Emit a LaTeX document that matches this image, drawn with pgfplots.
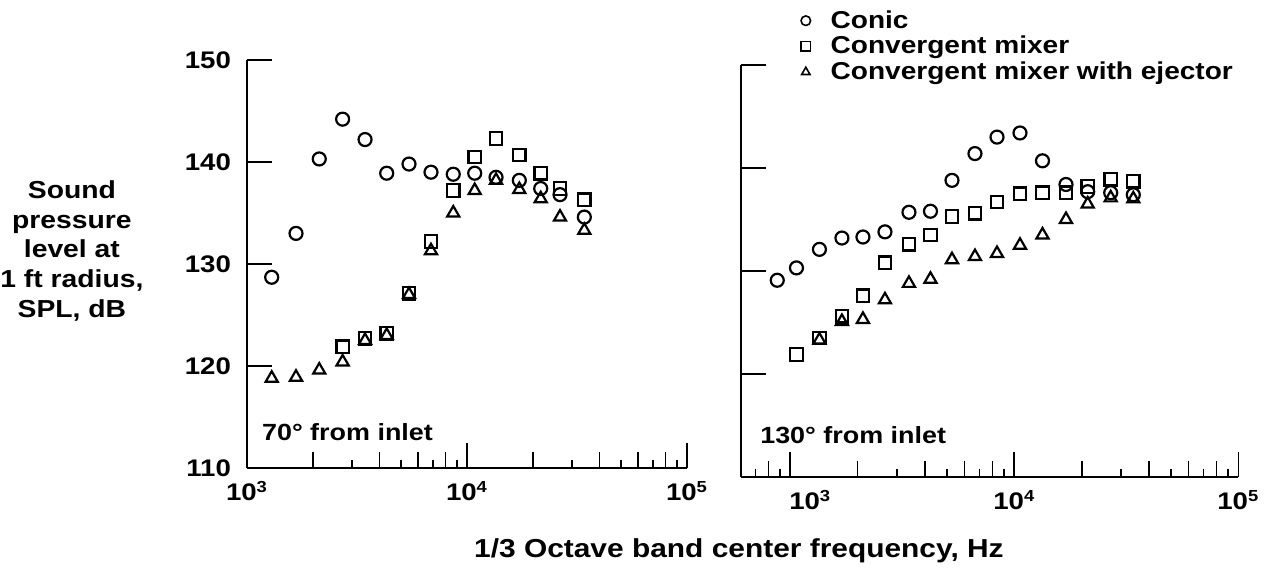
\documentclass[border=0pt]{standalone}
\usepackage{pgfplots}
\pgfplotsset{compat=1.18}
\usepackage{fontspec}
\setmainfont{Liberation Sans}[FakeStretch=1.15]

\begin{document}
\begin{tikzpicture}
\useasboundingbox (0,0) rectangle (636pt,286.5pt);

% 70 deg from inlet
\begin{axis}[
  scale only axis, xmode=log, ymin=110, ymax=150, xmin=1000, xmax=100000,
  at={(123.5pt,52.5pt)}, anchor=south west,
  width=220pt, height=204pt,
  axis lines=left, axis line style={-, line width=0.8pt},
  tick align=inside, tick style={black, line width=0.8pt},
  major tick length=12.5pt, minor tick length=8pt,
  ytick={110,120,130,140,150},
  yticklabels={110,120,130,140,150},
  yticklabel style={xshift=-4.5pt},
  xtick={1000,10000,100000},
  xticklabels={10\textsuperscript{3},10\textsuperscript{4},10\textsuperscript{5}},
  xticklabel style={yshift=-3pt},
  minor xtick={2000,4000,6000,8000,20000,40000,60000,80000},
  extra x ticks={3000,5000,7000,9000,30000,50000,70000,90000},
  extra x tick labels={},
  extra x tick style={major tick length=4pt},
  tick label style={font=\bfseries\fontsize{12}{14}\selectfont},
  clip=false,
  every axis y label/.style={at={(rel axis cs:-0.398,0.532)}, anchor=center, align=center,
    font=\bfseries\fontsize{12.3}{14.8}\selectfont},
  ylabel={Sound\\pressure\\level at\\1 ft radius,\\SPL, dB},
  every axis x label/.style={at={(rel axis cs:1.118,-0.203)}, anchor=center,
    font=\bfseries\fontsize{13}{15}\selectfont},
  xlabel={1/3 Octave band center frequency, Hz},
]
\addplot[black, only marks, line width=1.1pt, mark=o, mark size=3.25pt] coordinates {
 (1295,128.7) (1670,133.0) (2130,140.3) (2720,144.2) (3440,142.2)
 (4315,138.9) (5450,139.8) (6860,139.0) (8660,138.8) (10840,138.9)
 (13550,138.5) (17290,138.2) (21630,137.4) (26470,136.8) (34140,134.6)};
\addplot[black, only marks, line width=1.1pt, mark=square, mark size=3.1pt] coordinates {
 (2720,121.9) (3440,122.7) (4315,123.2) (5450,127.1) (6860,132.2)
 (8660,137.2) (10840,140.5) (13550,142.3) (17290,140.7) (21630,138.9)
 (26470,137.4) (34140,136.3)};
\addplot[black, only marks, line width=1.1pt, mark=triangle, mark size=3.5pt] coordinates {
 (1295,118.8) (1670,118.9) (2130,119.6) (2720,120.4) (3440,122.5)
 (4315,123.0) (5450,127.0) (6860,131.3) (8660,135.0) (10840,137.2)
 (13550,138.2) (17290,137.3) (21630,136.4) (26470,134.6) (34140,133.3)};
\node[anchor=west, inner sep=0pt, font=\bfseries\fontsize{11.7}{13}\selectfont]
  at (rel axis cs:0.0334,0.089) {70° from inlet};
\end{axis}

% 130 deg from inlet
\begin{axis}[
  scale only axis, xmode=log, ymin=110, ymax=150, xmin=603, xmax=100000,
  at={(370.5pt,48pt)}, anchor=south west,
  width=248.65pt, height=206pt,
  axis lines=left, axis line style={-, line width=0.8pt},
  tick align=inside, tick style={black, line width=0.8pt},
  major tick length=12.5pt, minor tick length=8pt,
  ytick={110,120,130,140,150},
  yticklabels=\empty,
  xtick={1000,10000,100000},
  xticklabels={\hspace*{20pt}10\textsuperscript{3},10\textsuperscript{4},10\textsuperscript{5}},
  xticklabel style={yshift=-3pt},
  minor xtick={800,2000,4000,6000,8000,20000,40000,60000,80000},
  extra x ticks={700,900,3000,5000,7000,9000,30000,50000,70000,90000},
  extra x tick labels={},
  extra x tick style={major tick length=4pt},
  tick label style={font=\bfseries\fontsize{12}{14}\selectfont},
  clip=false,
  legend style={at={(rel axis cs:0.1078,1.153)}, anchor=north west, draw=none, fill=none,
    font=\bfseries\fontsize{12.2}{14}\selectfont, row sep=-1.5pt},
  legend cell align=left,
  legend image code/.code={\path[draw=none, fill=none] (-2.4pt,0pt) -- (10.4pt,0pt);
    \draw[#1] plot coordinates {(0pt,0pt)};},
  legend image post style={mark size=2.4pt, line width=0.8pt},
]
\addplot[black, only marks, line width=1.1pt, mark=o, mark size=3.25pt] coordinates {
 (875,129.1) (1066,130.3) (1350,132.1) (1701,133.2) (2111,133.3) (2647,133.8)
 (3388,135.7) (4226,135.8) (5272,138.8) (6676,141.4) (8373,143.0) (10603,143.4)
 (13363,140.7) (17013,138.4) (21267,137.7) (26940,137.6) (33980,137.4)};
\addplot[black, only marks, line width=1.1pt, mark=square, mark size=3.1pt] coordinates {
 (1066,121.9) (1350,123.5) (1701,125.6) (2111,127.6) (2647,130.8)
 (3388,132.6) (4226,133.5) (5272,135.3) (6676,135.6) (8373,136.7) (10603,137.5)
 (13363,137.6) (17013,137.6) (21267,138.2) (26940,138.9) (33980,138.7)};
\addplot[black, only marks, line width=1.1pt, mark=triangle, mark size=3.5pt] coordinates {
 (1350,123.3) (1701,125.1) (2111,125.3) (2647,127.2)
 (3388,128.8) (4226,129.2) (5272,131.1) (6676,131.4) (8373,131.7) (10603,132.5)
 (13363,133.5) (17013,135.0) (21267,136.5) (26940,137.1) (33980,137.0)};
\legend{Conic, Convergent mixer, Convergent mixer with ejector}
\node[anchor=west, inner sep=0pt, font=\bfseries\fontsize{11.7}{13}\selectfont]
  at (rel axis cs:0.038,0.102) {130° from inlet};
\end{axis}
\end{tikzpicture}
\end{document}
